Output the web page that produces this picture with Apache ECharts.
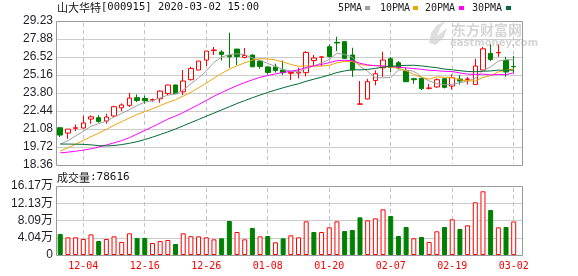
<!DOCTYPE html>
<html><head><meta charset="utf-8">
<script src="https://cdn.jsdelivr.net/npm/echarts@6/dist/echarts.min.js"></script>
<style>html,body{margin:0;padding:0;background:#fff}#c{width:578px;height:276px}</style>
</head><body><div id="c"></div>
<script>
const dates = ['11-29','12-02','12-03','12-04','12-05','12-06','12-09','12-10','12-11','12-12','12-13','12-16','12-17','12-18','12-19','12-20','12-23','12-24','12-25','12-26','12-27','12-30','12-31','01-02','01-03','01-06','01-07','01-08','01-09','01-10','01-13','01-14','01-15','01-16','01-17','01-20','01-21','01-22','01-23','02-03','02-04','02-05','02-06','02-07','02-10','02-11','02-12','02-13','02-14','02-17','02-18','02-19','02-20','02-21','02-24','02-25','02-26','02-27','02-28','03-02'];
const tickLabels = ['12-04','12-16','12-26','01-08','01-20','02-07','02-19','03-02'];
const opens  = [21.17,20.77,21.13,21.15,21.83,21.93,21.68,22.06,22.68,22.86,23.44,23.38,23.26,23.36,23.76,24.40,23.89,24.80,25.53,26.28,27.00,26.89,26.63,27.11,26.48,26.66,26.21,25.76,25.76,25.53,25.28,25.30,25.33,26.25,26.50,27.29,27.62,27.67,26.66,22.95,23.34,24.74,25.70,26.38,26.08,25.45,24.87,24.90,24.15,24.25,24.87,24.32,24.85,24.83,24.44,25.53,26.78,26.83,26.25,25.80];
const closes = [20.62,21.07,21.17,21.53,22.00,21.65,21.98,22.76,22.89,23.41,23.23,23.21,23.30,23.94,24.40,23.74,24.70,25.65,26.21,26.96,27.04,26.71,26.53,26.55,26.63,25.77,25.80,25.35,25.50,25.33,25.35,25.37,26.86,26.44,26.52,26.55,27.57,26.41,25.53,22.97,24.65,25.25,26.28,25.72,25.68,24.65,24.80,24.12,24.17,24.80,24.22,24.95,24.70,24.85,25.83,27.13,26.33,26.86,25.38,25.78];
const lows   = [20.47,20.34,20.92,21.15,21.47,21.55,21.47,21.98,22.43,22.74,23.11,22.98,23.14,23.06,23.64,23.72,23.64,24.74,25.53,25.83,26.66,26.25,25.70,25.91,26.41,25.76,25.63,25.20,25.33,25.15,24.77,24.90,25.05,25.83,25.83,26.46,26.96,26.38,25.02,22.95,23.31,24.37,25.02,25.38,25.58,24.62,24.49,24.02,24.06,24.19,24.14,24.06,24.44,24.44,24.44,25.53,26.21,26.53,25.02,25.33];
const highs  = [21.22,21.07,21.42,22.08,22.10,22.12,22.23,22.83,23.01,23.81,23.69,23.59,23.38,23.99,24.42,24.42,25.53,25.78,26.21,26.98,27.27,27.01,28.35,27.13,27.19,26.71,26.28,25.78,26.01,26.25,25.33,25.70,26.96,26.66,26.56,27.46,28.04,27.69,27.21,24.70,24.85,25.50,26.91,26.51,26.21,25.70,24.95,24.95,24.49,24.90,24.93,25.20,25.15,25.00,26.38,27.27,27.46,27.46,26.53,26.59];
const ma5  = [19.94,20.20,20.55,20.90,21.28,21.48,21.67,21.98,22.26,22.54,22.85,23.11,23.22,23.43,23.63,23.73,24.02,24.49,24.94,25.45,26.11,26.51,26.69,26.76,26.69,26.44,26.26,26.02,25.81,25.55,25.46,25.38,25.66,25.84,26.07,26.32,26.79,26.70,26.51,25.80,25.43,24.96,24.94,24.97,25.53,25.53,25.44,25.01,24.70,24.51,24.42,24.45,24.57,24.70,24.91,25.49,25.77,26.20,26.31,26.30];
const ma10 = [19.41,19.66,19.93,20.20,20.50,20.76,21.05,21.36,21.63,21.91,22.17,22.39,22.60,22.85,23.08,23.29,23.56,23.85,24.19,24.54,24.92,25.27,25.59,25.85,26.07,26.28,26.39,26.36,26.29,26.13,25.95,25.81,25.84,25.83,25.82,25.89,26.07,26.18,26.18,25.94,25.88,25.88,25.82,25.74,25.67,25.48,25.20,24.98,24.84,25.02,24.98,24.95,24.79,24.70,24.71,24.96,25.11,25.39,25.51,25.61];
const ma20 = [19.28,19.33,19.40,19.48,19.58,19.72,19.87,20.03,20.20,20.42,20.70,20.97,21.24,21.53,21.82,22.06,22.32,22.62,22.92,23.23,23.55,23.83,24.10,24.35,24.58,24.79,24.98,25.11,25.24,25.34,25.44,25.54,25.72,25.84,25.95,26.09,26.23,26.27,26.24,26.04,25.92,25.85,25.83,25.79,25.75,25.69,25.64,25.58,25.51,25.48,25.43,25.42,25.31,25.22,25.19,25.22,25.16,25.19,25.18,25.32];
const ma30 = [19.94,19.94,19.93,19.92,19.88,19.82,19.80,19.83,19.90,20.00,20.12,20.28,20.46,20.66,20.86,21.08,21.32,21.56,21.80,22.04,22.28,22.52,22.76,23.00,23.22,23.44,23.64,23.84,24.02,24.19,24.35,24.49,24.68,24.84,24.99,25.15,25.34,25.46,25.55,25.54,25.58,25.65,25.75,25.81,25.85,25.88,25.89,25.84,25.77,25.70,25.60,25.55,25.48,25.42,25.40,25.44,25.46,25.52,25.51,25.52];
const volumes = [49200,41400,41400,37500,48400,32800,37500,43700,30500,50800,39800,39800,28100,32800,35200,25800,50800,44100,43700,41400,36700,39100,79700,53900,36700,63300,43700,44500,29700,39100,46100,41400,78900,53900,53900,64800,78900,56200,58600,88300,81300,85900,107000,91400,44500,65600,39100,42200,30500,55500,65600,83600,60900,69500,123500,149300,105500,64800,65600,78616];
const priceTicks = ['18.36','19.72','21.08','22.44','23.80','25.16','26.52','27.88','29.23'];
const volumeTicks = ['0','4.04万','8.09万','12.13万','16.17万'];
const maNames = ['5PMA','10PMA','20PMA','30PMA'];
const titleCode = '山大华特';
const titleRest = '[000915] 2020-03-02 15:00';
const volTitle = '成交量';
const volLast = ':78616';

const RED = '#ff0000', GREEN = '#008000';
const MA_COLORS = ['#a0a0a0', '#f0a30a', '#ff00ff', '#006b33'];
const PMIN = 18.36, PMAX = 29.23, PSTEP = (PMAX - PMIN) / 8;
const VMAX = 161700, VSTEP = VMAX / 4;
const MONO = '"DejaVu Sans Mono", "Liberation Mono", monospace';
const SANS = '"Liberation Sans", "Noto Sans CJK SC", sans-serif';
const CJK = '"Noto Sans CJK SC", sans-serif';
const PLOT_L = 56.4, BAND = 7.686, N = dates.length;

const candleData = dates.map((d, i) => [opens[i], closes[i], lows[i], highs[i]]);
const volData = volumes.map((v, i) => {
  const up = i === 0 ? closes[0] > opens[0] : closes[i] > closes[i - 1];
  return { value: v, itemStyle: up ? { color: '#fff', borderColor: RED, borderWidth: 1 } : { color: GREEN, borderColor: GREEN, borderWidth: 1 } };
});

const chart = echarts.init(document.getElementById('c'), null, { renderer: 'canvas' });
const lineSeries = [ma5, ma10, ma20, ma30].map((arr, k) => ({
  name: maNames[k], type: 'line', xAxisIndex: 1, yAxisIndex: 1, data: arr, symbol: 'none',
  lineStyle: { width: 1, color: MA_COLORS[k] }, itemStyle: { color: MA_COLORS[k] }, z: 3, silent: true
}));

chart.setOption({
  animation: false,
  grid: [
    { left: 56, top: 21, width: 466, height: 144 },
    { left: PLOT_L, top: 21, width: BAND * N, height: 144 },
    { left: 56, top: 186, width: 466, height: 69 },
    { left: PLOT_L, top: 186, width: BAND * N, height: 69 }
  ],
  xAxis: [
    { gridIndex: 0, type: 'value', min: 0, max: 1, show: false },
    { gridIndex: 1, type: 'category', data: dates, boundaryGap: true, axisLine: { show: false }, axisTick: { show: false }, axisLabel: { show: false }, splitLine: { show: false } },
    { gridIndex: 2, type: 'value', min: 0, max: 1, show: false },
    { gridIndex: 3, type: 'category', data: dates, boundaryGap: true, axisLine: { show: false }, axisTick: { show: false }, splitLine: { show: false },
      axisLabel: { interval: 0, color: RED, fontFamily: MONO, fontSize: 10, margin: 6, formatter: v => tickLabels.includes(v) ? v : '' } }
  ],
  yAxis: [
    { gridIndex: 0, type: 'value', min: PMIN, max: PMAX, interval: PSTEP, axisLine: { show: false }, axisTick: { show: false },
      axisLabel: { color: '#1e1e2a', fontFamily: SANS, fontSize: 12, margin: 3, formatter: v => priceTicks[Math.round((v - PMIN) / PSTEP)] },
      splitLine: { show: true, showMinLine: false, showMaxLine: false, lineStyle: { color: '#cccccc', width: 1 } } },
    { gridIndex: 1, type: 'value', min: PMIN, max: PMAX, show: false, splitLine: { show: false } },
    { gridIndex: 2, type: 'value', min: 0, max: VMAX, interval: VSTEP, axisLine: { show: false }, axisTick: { show: false },
      axisLabel: { color: '#1e1e2a', fontFamily: SANS, fontSize: 12, margin: 3, formatter: v => volumeTicks[Math.round(v / VSTEP)] },
      splitLine: { show: true, showMinLine: false, showMaxLine: false, lineStyle: { color: '#cccccc', width: 1 } } },
    { gridIndex: 3, type: 'value', min: 0, max: VMAX, show: false, splitLine: { show: false } }
  ],
  series: [
    { name: 'K', type: 'candlestick', xAxisIndex: 1, yAxisIndex: 1, data: candleData, barWidth: 5,
      itemStyle: { color: '#ffffff', color0: GREEN, borderColor: RED, borderColor0: GREEN, borderWidth: 1 }, z: 2 },
    ...lineSeries,
    { name: 'VOL', type: 'bar', xAxisIndex: 3, yAxisIndex: 3, data: volData, barWidth: 5, z: 2 }
  ]
});

// dashed vertical grid lines at the labelled days: small filled dash rects placed via the chart's axes
function dashedVLines() {
  const els = [];
  const panels = [{ xi: 1, yi: 1, top: PMAX, bottom: PMIN }, { xi: 3, yi: 3, top: VMAX, bottom: 0 }];
  panels.forEach(p => {
    const yTop = Math.round(chart.convertToPixel({ yAxisIndex: p.yi }, p.top));
    const yBot = Math.round(chart.convertToPixel({ yAxisIndex: p.yi }, p.bottom));
    tickLabels.forEach(t => {
      const cx = chart.convertToPixel({ xAxisIndex: p.xi }, t);
      const x = Math.floor(cx);
      for (let y = yTop + 2; y < yBot - 1; y += 7) {
        els.push({ type: 'rect', silent: true, z: 1,
          shape: { x: x, y: y, width: 1, height: Math.min(4, yBot - 1 - y) },
          style: { fill: '#c4c4c4' } });
      }
    });
  });
  return els;
}

const legendGraphics = [];
const legendX = [338, 380, 425, 472];
const legendSq = [365, 413, 459, 506];
maNames.forEach((n, k) => {
  legendGraphics.push({ type: 'text', left: legendX[k], top: 3, style: { text: n, font: '10px ' + MONO, fill: '#222' } });
  legendGraphics.push({ type: 'rect', shape: { x: legendSq[k], y: 6, width: 5, height: 4 }, style: { fill: MA_COLORS[k] } });
});

chart.setOption({
  graphic: [
    ...dashedVLines(),
    { type: 'rect', z: 10, silent: true, shape: { x: 56.5, y: 21.5, width: 466, height: 144 }, style: { fill: 'none', stroke: '#999', lineWidth: 1 } },
    { type: 'rect', z: 10, silent: true, shape: { x: 56.5, y: 186.5, width: 466, height: 69 }, style: { fill: 'none', stroke: '#999', lineWidth: 1 } },
    { type: 'text', left: 57, top: 2, style: { text: '{a|' + titleCode + '}{b|' + titleRest + '}', rich: {
        a: { font: '11px ' + CJK, fill: '#111' }, b: { font: '10.5px ' + MONO, fill: '#111' } } } },
    { type: 'text', left: 57, top: 172, style: { text: '{a|' + volTitle + '}{b|' + volLast + '}', rich: {
        a: { font: '11px ' + CJK, fill: '#111' }, b: { font: '11px ' + MONO, fill: '#111' } } } },
    { type: 'polygon', z: -1, shape: { points: [[429, 43], [431, 33], [437, 25], [446, 21], [440, 28], [437, 36], [447, 28], [444, 37], [436, 45]] }, style: { fill: '#dedede' } },
    { type: 'text', left: 452, top: 23, z: -1, style: { text: '东方财富网', font: 'bold 14px ' + CJK, fill: '#d6d6d6' } },
    { type: 'text', left: 450, top: 38, z: -1, style: { text: 'eastmoney.com', font: 'bold 10px "DejaVu Sans", sans-serif', fill: '#d6d6d6' } },
    ...legendGraphics
  ]
});
</script></body></html>
